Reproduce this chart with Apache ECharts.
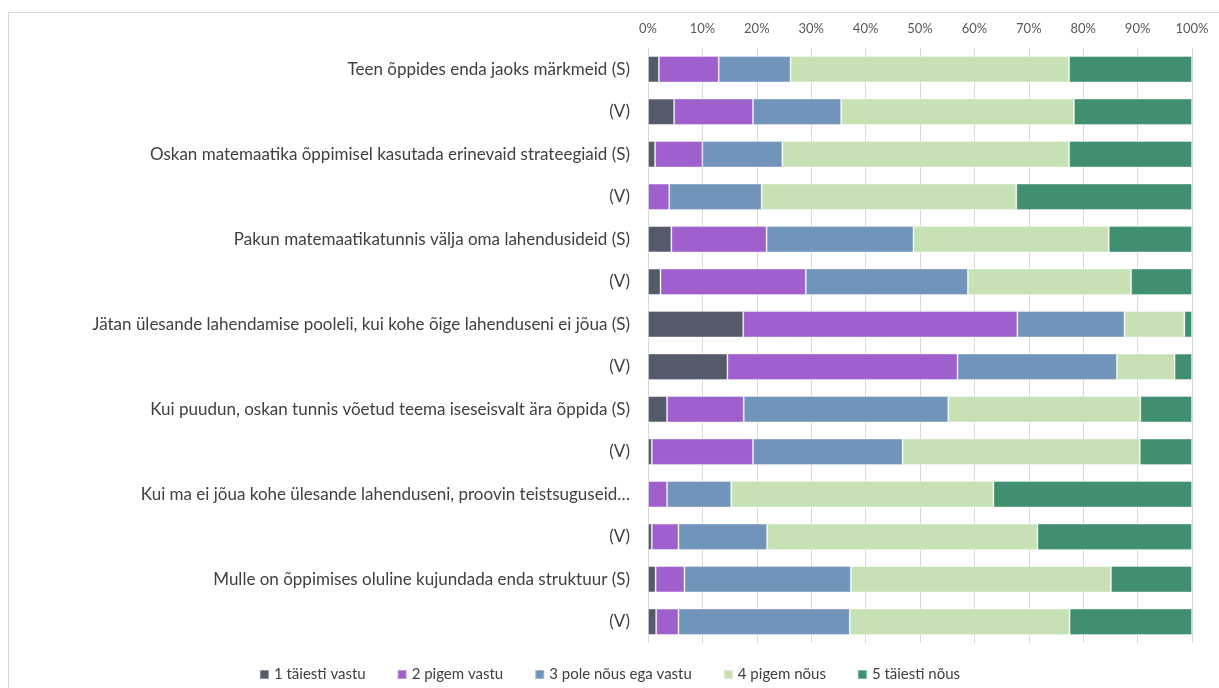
<!DOCTYPE html>
<html>
<head>
<meta charset="utf-8">
<script src="https://cdn.jsdelivr.net/npm/echarts@6/dist/echarts.min.js"></script>
<style>
  html, body { margin: 0; padding: 0; background: #fff; }
  #frame { position: absolute; left: 8px; top: 12px; width: 1230px; height: 700px; border: 1px solid #d9d9d9; box-sizing: border-box; }
  #chart { position: absolute; left: 0; top: 0; width: 1219px; height: 688px; }
</style>
</head>
<body>
<div id="frame"></div>
<div id="chart"></div>
<script>
// Statements (top to bottom as shown)
const categories = [
  'Teen õppides enda jaoks märkmeid (S)',
  '(V)',
  'Oskan matemaatika õppimisel kasutada erinevaid strateegiaid (S)',
  '(V) ',
  'Pakun matemaatikatunnis välja oma lahendusideid (S)',
  '(V)  ',
  'Jätan ülesande lahendamise pooleli, kui kohe õige lahenduseni ei jõua (S)',
  '(V)   ',
  'Kui puudun, oskan tunnis võetud teema iseseisvalt ära õppida (S)',
  '(V)    ',
  'Kui ma ei jõua kohe ülesande lahenduseni, proovin teistsuguseid…',
  '(V)     ',
  'Mulle on õppimises oluline kujundada enda struktuur (S)',
  '(V)      '
];

const seriesNames = [
  '1 täiesti vastu',
  '2 pigem vastu',
  '3 pole nõus ega vastu',
  '4 pigem nõus',
  '5 täiesti nõus'
];

// Shares in percent, one value per statement (same order as categories)
const s1 = [2.0, 4.8, 1.3, 0.0, 4.3, 2.3, 17.5, 14.6, 3.5, 0.7, 0.0, 0.7, 1.4, 1.5];
const s2 = [11.0, 14.5, 8.7, 3.9, 17.5, 26.7, 50.4, 42.3, 14.1, 18.6, 3.5, 4.9, 5.3, 4.1];
const s3 = [13.2, 16.2, 14.7, 17.0, 27.0, 29.8, 19.7, 29.3, 37.6, 27.5, 11.8, 16.3, 30.6, 31.5];
const s4 = [51.2, 42.8, 52.7, 46.8, 35.9, 30.0, 11.0, 10.6, 35.3, 43.6, 48.2, 49.7, 47.8, 40.4];
const s5 = [22.6, 21.7, 22.6, 32.3, 15.3, 11.2, 1.4, 3.2, 9.5, 9.6, 36.5, 28.4, 14.9, 22.5];

const colors = ['#555a6a', '#9f5fcc', '#7195ba', '#c7e1b5', '#408f70'];
const values = [s1, s2, s3, s4, s5];

const chart = echarts.init(document.getElementById('chart'), null, { renderer: 'canvas' });

chart.setOption({
  animation: false,
  color: colors,
  textStyle: { fontFamily: 'Lato, Liberation Sans, sans-serif' },
  grid: { left: 648, right: 27, top: 48, bottom: 45, containLabel: false },
  xAxis: {
    type: 'value',
    position: 'top',
    min: 0,
    max: 100,
    interval: 10,
    axisLine: { show: false },
    axisTick: { show: false },
    axisLabel: { formatter: '{value}%', color: '#595959', fontSize: 13, margin: 13 },
    splitLine: { show: true, lineStyle: { color: '#d9d9d9', width: 1 } }
  },
  yAxis: {
    type: 'category',
    inverse: true,
    data: categories,
    axisLine: { show: false },
    axisTick: { show: false },
    axisLabel: { color: '#404040', fontSize: 17, margin: 18, formatter: v => v.trim() }
  },
  legend: {
    bottom: 1,
    left: 'center',
    itemWidth: 9,
    itemHeight: 9,
    itemGap: 31,
    icon: 'rect',
    textStyle: { color: '#404040', fontSize: 15 },
    data: seriesNames
  },
  series: seriesNames.map((name, i) => ({
    name,
    type: 'bar',
    stack: 'total',
    barCategoryGap: '38%',
    data: values[i],
    itemStyle: { color: colors[i], borderColor: 'rgba(255,255,255,0.35)', borderWidth: 1 }
  }))
});
</script>
</body>
</html>
